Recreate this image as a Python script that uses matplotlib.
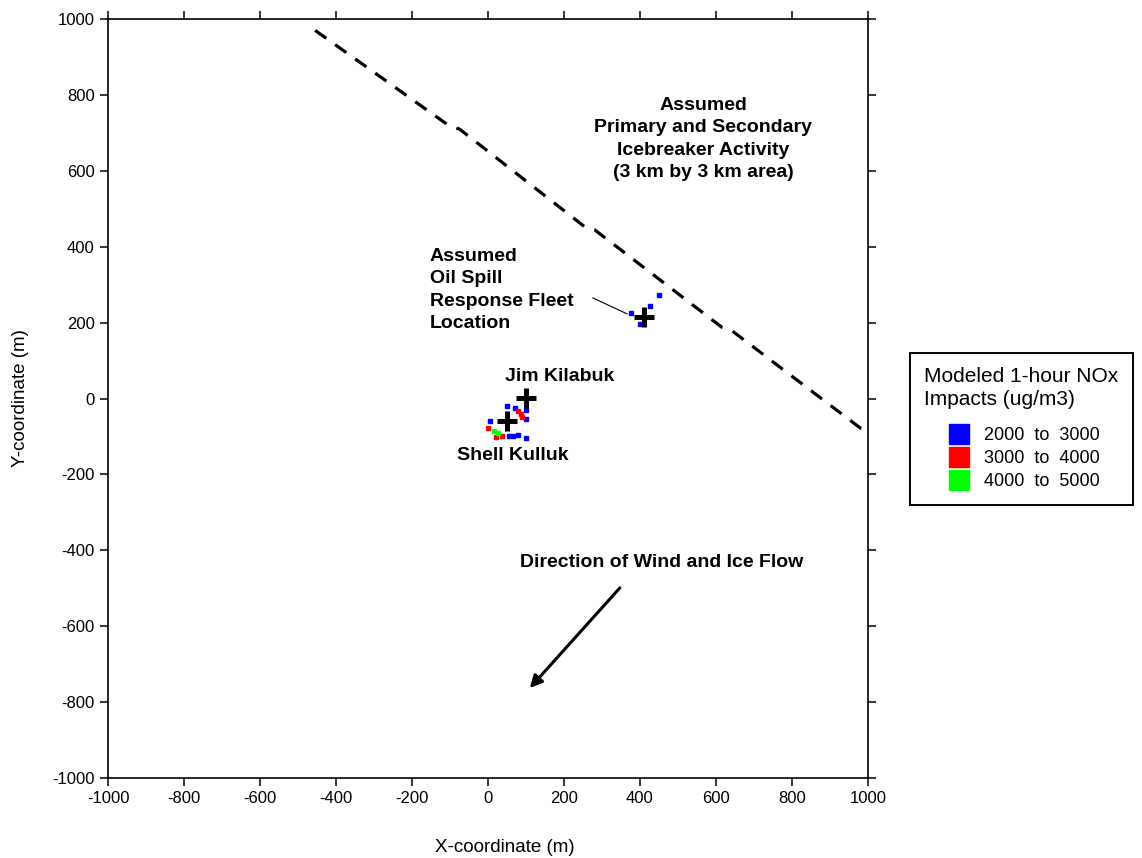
import matplotlib
matplotlib.use('Agg')
import matplotlib.pyplot as plt
from matplotlib.lines import Line2D

plt.rcParams['font.family'] = ['Liberation Sans', 'DejaVu Sans']
plt.rcParams['axes.unicode_minus'] = False

# modeled receptor cells by concentration bin
blue_x = [50, 70, 100, 100, 5, 55, 65, 78, 100, 375, 400, 425, 450]
blue_y = [-20, -25, -30, -55, -60, -100, -100, -95, -105, 225, 197, 245, 273]
red_x = [80, 86, 90, 0, 22, 38]
red_y = [-33, -42, -50, -78, -102, -100]
green_x = [15, 25]
green_y = [-86, -92]

bins = ['2000  to  3000', '3000  to  4000', '4000  to  5000']
bin_colors = ['#0000ff', '#ff0000', '#00ff00']

# sources
src_names = ['Jim Kilabuk', 'Shell Kulluk', 'Fleet']
src_x = [100, 50, 410]
src_y = [2, -60, 215]

# icebreaker activity boundary (dashed)
edge_x = [-455, -100, -75, 255, 280, 615, 640, 980, 1000]
edge_y = [970, 717, 710, 452, 445, 188, 180, -78, -85]

# wind arrow
wind_from = (347, -499)
wind_to = (110, -763)

ticks = list(range(-1000, 1001, 200))

fig = plt.figure(figsize=(11.42, 8.58), dpi=100)
ax = fig.add_axes([108 / 1142, 80 / 858, 760 / 1142, 759 / 858])

ax.plot(edge_x, edge_y, color='black', lw=2.3, linestyle=(0, (4.3, 3.4)))

for xs, ys, c in zip([blue_x, red_x, green_x], [blue_y, red_y, green_y], bin_colors):
    ax.plot(xs, ys, 's', color=c, markersize=3.2, linestyle='none')

ax.plot(src_x, src_y, '+', color='black', markersize=14, markeredgewidth=3.6, linestyle='none')

ax.plot([276, 366], [265, 223], color='black', lw=0.8)

ax.annotate('', xy=wind_to, xytext=wind_from,
            arrowprops=dict(arrowstyle='-|>', color='black', lw=2.2,
                            mutation_scale=18, shrinkA=0, shrinkB=0))

bold = dict(fontsize=14, fontweight='bold', color='black')
ax.text(566, 684, 'Assumed\nPrimary and Secondary\nIcebreaker Activity\n(3 km by 3 km area)',
        ha='center', va='center', linespacing=1.4, **bold)
ax.text(-153, 286, 'Assumed\nOil Spill\nResponse Fleet\nLocation',
        ha='left', va='center', linespacing=1.4, **bold)
ax.text(189, 59, 'Jim Kilabuk', ha='center', va='center', **bold)
ax.text(66, -151, 'Shell Kulluk', ha='center', va='center', **bold)
ax.text(458, -433, 'Direction of Wind and Ice Flow', ha='center', va='center', **bold)

ax.set_xlim(-1000, 1000)
ax.set_ylim(-1000, 1000)
ax.set_xticks(ticks)
ax.set_yticks(ticks)
ax.tick_params(direction='out', length=6, width=1.1, labelsize=12,
               top=True, right=True, labeltop=False, labelright=False)
for s in ax.spines.values():
    s.set_linewidth(1.2)
ax.set_xlabel('X-coordinate (m)', fontsize=13.5)
ax.set_ylabel('Y-coordinate (m)', fontsize=13.5)
ax.xaxis.set_label_coords(0.522, -0.08)
ax.yaxis.set_label_coords(-0.104, 0.5)

handles = [Line2D([], [], marker='s', color=c, markersize=14.5, linestyle='none') for c in bin_colors]
leg = ax.legend(handles, bins, title='Modeled 1-hour NOx\nImpacts (ug/m3)',
                loc='upper left', bbox_to_anchor=(1.0553, 0.56), borderaxespad=0,
                fontsize=13, title_fontsize=15, fancybox=False, framealpha=1,
                edgecolor='black', handletextpad=0.52, labelspacing=0.33,
                borderpad=0.8, handlelength=1.73)
leg.get_frame().set_linewidth(1.4)
leg.get_title().set_linespacing(1.25)
leg._legend_box.sep = 13  # extra room under the title

fig.savefig('out.png', dpi=100)
